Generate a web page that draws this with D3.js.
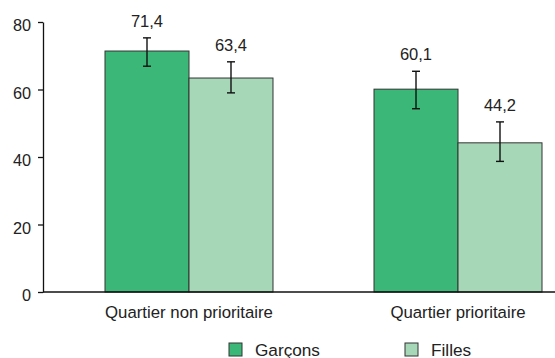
<!DOCTYPE html>
<html>
<head>
<meta charset="utf-8">
<script src="https://cdn.jsdelivr.net/npm/d3@7"></script>
<style>
  html, body { margin: 0; padding: 0; background: #fff; }
  svg { display: block; font-family: "Liberation Sans", Arial, sans-serif; }
</style>
</head>
<body>
<svg id="chart" width="555" height="358"></svg>
<script>
// Share (%) by neighbourhood type and sex, with confidence intervals
const categories = ["Quartier non prioritaire", "Quartier prioritaire"];
const seriesNames = ["Garçons", "Filles"];
const garcons = [71.4, 60.1];
const filles = [63.4, 44.2];
const garconsLow = [66.9, 54.3];
const garconsHigh = [75.3, 65.4];
const fillesLow = [59.0, 38.7];
const fillesHigh = [68.2, 50.4];
const yTicks = [0, 20, 40, 60, 80];

const colors = { "Garçons": "#3bb878", "Filles": "#a6d7b6" };
const fmt = v => d3.format(".1f")(v).replace(".", ",");

const rows = [];
categories.forEach((c, i) => {
  rows.push({ cat: c, series: "Garçons", value: garcons[i], lo: garconsLow[i], hi: garconsHigh[i] });
  rows.push({ cat: c, series: "Filles", value: filles[i], lo: fillesLow[i], hi: fillesHigh[i] });
});

const svg = d3.select("#chart");
const axisX = 43, baseY = 292, topY = 22;

const y = d3.scaleLinear().domain([0, 80]).range([baseY, topY]);
const x0 = d3.scaleBand().domain(categories).range([105, 542]).paddingInner(0.3755).paddingOuter(0);
const x1 = d3.scaleBand().domain(seriesNames).range([0, x0.bandwidth()]).padding(0);

// Bars
svg.append("g").selectAll("rect").data(rows).join("rect")
  .attr("x", d => x0(d.cat) + x1(d.series))
  .attr("y", d => y(d.value))
  .attr("width", x1.bandwidth())
  .attr("height", d => y(0) - y(d.value))
  .attr("fill", d => colors[d.series])
  .attr("stroke", "#333")
  .attr("stroke-width", 1);

// Error bars
const eb = svg.append("g").attr("stroke", "#111").attr("stroke-width", 1.4);
rows.forEach(d => {
  const cx = x0(d.cat) + x1(d.series) + x1.bandwidth() / 2;
  eb.append("line").attr("x1", cx).attr("x2", cx).attr("y1", y(d.hi)).attr("y2", y(d.lo));
  eb.append("line").attr("x1", cx - 4).attr("x2", cx + 4).attr("y1", y(d.hi)).attr("y2", y(d.hi));
  eb.append("line").attr("x1", cx - 4).attr("x2", cx + 4).attr("y1", y(d.lo)).attr("y2", y(d.lo));
});

// Value labels
svg.append("g").selectAll("text").data(rows).join("text")
  .attr("x", d => x0(d.cat) + x1(d.series) + x1.bandwidth() / 2)
  .attr("y", d => y(d.hi) - 11)
  .attr("text-anchor", "middle")
  .attr("font-size", 16.5)
  .attr("fill", "#222")
  .text(d => fmt(d.value));

// Y axis
const yAxis = svg.append("g")
  .attr("transform", `translate(${axisX},0)`)
  .call(d3.axisLeft(y).tickValues(yTicks).tickSize(5).tickSizeOuter(0).tickPadding(7));
yAxis.select(".domain").attr("stroke", "#111").attr("stroke-width", 1.3);
yAxis.selectAll(".tick line").attr("stroke", "#111").attr("stroke-width", 1.3);
yAxis.selectAll(".tick text")
  .attr("font-size", 16.3)
  .attr("font-family", "Liberation Sans, Arial, sans-serif")
  .attr("fill", "#222")
  .attr("dy", "0.55em");

// X baseline
svg.append("line")
  .attr("x1", axisX).attr("x2", 555)
  .attr("y1", y(0)).attr("y2", y(0))
  .attr("stroke", "#111").attr("stroke-width", 1.3);

// Category labels
svg.append("g").selectAll("text").data(categories).join("text")
  .attr("x", d => x0(d) + x0.bandwidth() / 2)
  .attr("y", 318)
  .attr("text-anchor", "middle")
  .attr("font-size", 16.8)
  .attr("fill", "#222")
  .text(d => d);

// Legend
const legendX = [229, 405];
const legend = svg.append("g").selectAll("g").data(seriesNames).join("g")
  .attr("transform", (d, i) => `translate(${legendX[i]},343)`);
legend.append("rect")
  .attr("width", 13).attr("height", 13)
  .attr("fill", d => colors[d])
  .attr("stroke", "#333").attr("stroke-width", 1);
legend.append("text")
  .attr("x", 26).attr("y", 12.5)
  .attr("font-size", 17.2)
  .attr("fill", "#222")
  .text(d => d);
</script>
</body>
</html>
